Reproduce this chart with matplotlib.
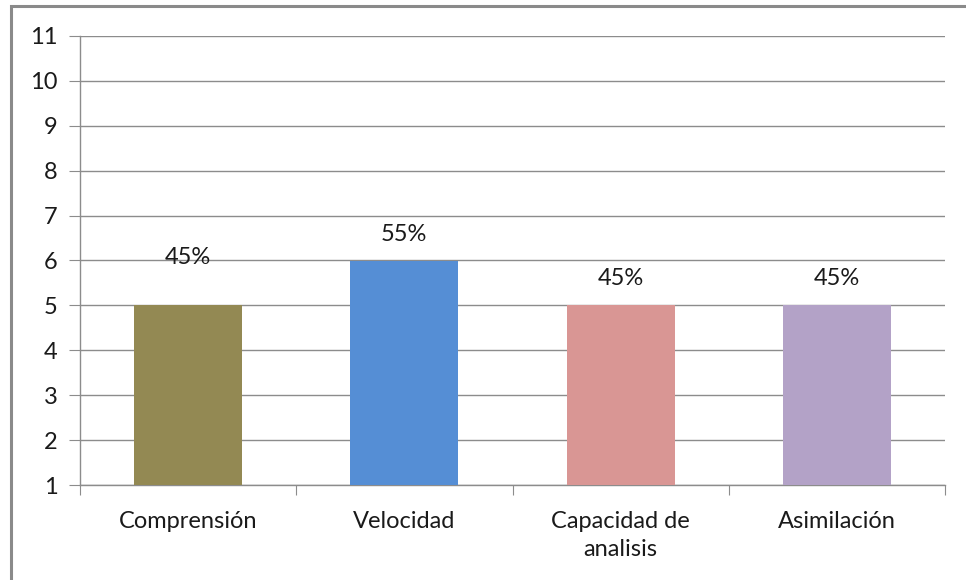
import matplotlib
matplotlib.use("Agg")
import matplotlib.pyplot as plt
from matplotlib.patches import Rectangle

categories = ["Comprensión", "Velocidad", "Capacidad de\nanalisis", "Asimilación"]
values = [5, 6, 5, 5]
labels = ["45%", "55%", "45%", "45%"]
colors = ["#938953", "#558ED5", "#D99694", "#B3A2C7"]
y_ticks = list(range(1, 12))

plt.rcParams["font.family"] = ["Lato", "DejaVu Sans"]
FS = 17

W, H = 966, 580
fig = plt.figure(figsize=(W / 100, H / 100), dpi=100)
fig.patch.set_facecolor("white")

# outer chart frame (right and bottom edges fall outside the canvas)
fig.add_artist(Rectangle((11 / W, -0.1), 1.2, 1 - 6 / H + 0.1,
                         transform=fig.transFigure, fill=False,
                         edgecolor="#8a8a8a", linewidth=2.2))

ax = fig.add_axes([80 / W, 1 - 485 / H, 865 / W, 449 / H])
x = list(range(len(categories)))
ax.bar(x, [v - 1 for v in values], bottom=1, width=0.5, color=colors, zorder=3)

# value labels above the bars
label_offsets = [1.06, 0.59, 0.61, 0.61]
for xi, v, lab, off in zip(x, values, labels, label_offsets):
    ax.text(xi, v + off, lab, ha="center", va="center", fontsize=FS, color="#1a1a1a", zorder=4)

ax.set_xlim(-0.5, len(categories) - 0.5)
ax.set_ylim(1, 11)
ax.set_yticks(y_ticks)
ax.set_yticklabels([str(t) for t in y_ticks], fontsize=FS, color="#1a1a1a")
ax.yaxis.grid(True, color="#8c8c8c", linewidth=1.0, zorder=0)
ax.set_axisbelow(True)

# category labels between boundary ticks
ax.set_xticks([i - 0.5 for i in range(len(categories) + 1)])
ax.set_xticklabels([])
ax.set_xticks(x, minor=True)
ax.set_xticklabels(categories, minor=True, fontsize=FS, color="#1a1a1a", linespacing=1.4)
ax.tick_params(axis="x", which="minor", length=0, pad=19)
ax.tick_params(axis="x", which="major", length=7, color="#8c8c8c", direction="out")
ax.tick_params(axis="y", length=8, color="#8c8c8c", direction="out", pad=8)

for side in ["top", "right"]:
    ax.spines[side].set_visible(False)
for side in ["left", "bottom"]:
    ax.spines[side].set_color("#8c8c8c")
    ax.spines[side].set_linewidth(1.0)

fig.savefig("out.png", dpi=100, facecolor="white")
